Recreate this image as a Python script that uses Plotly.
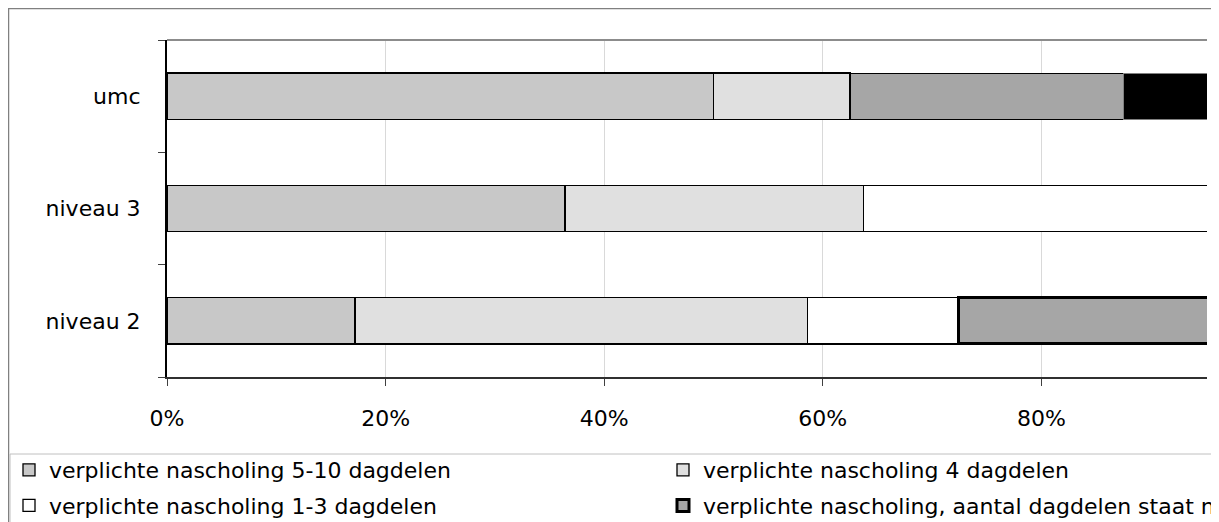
import plotly.graph_objects as go

# categorieen (van onder naar boven)
categories = ["niveau 2", "niveau 3", "umc"]

# aandelen per soort verplichte nascholing
nascholing_5_10 = [0.172, 0.364, 0.500]
nascholing_4 = [0.414, 0.273, 0.125]
nascholing_1_3 = [0.138, 0.364, 0.0]
nascholing_niet_vast = [0.276, 0.0, 0.250]
nascholing_overig = [0.0, 0.0, 0.125]

series_names = [
    "verplichte nascholing 5-10 dagdelen",
    "verplichte nascholing 4 dagdelen",
    "verplichte nascholing 1-3 dagdelen",
    "verplichte nascholing, aantal dagdelen staat niet vast",
    "overig",
]

# de pagina zet de figuur 8px van links/boven (body marge)
OFF = 8
W, H = 1219 - OFF, 522 - OFF
L, T = 167 - OFF, 40 - OFF
R = W - (1207 - OFF)
B = H - (377 - OFF)
PW, PH = W - L - R, H - T - B
AXIS_100 = 1093  # pixels voor 0-100%


def px_x(p):
    # schermpixel (x) -> paper coordinaat
    return (p - OFF - L) / PW


def px_y(p):
    return 1 - (p - OFF - T) / PH


FONT = "DejaVu Sans, Verdana, sans-serif"

fig = go.Figure()

styles = [
    dict(color="#c8c8c8", line=dict(color="black", width=1.3)),
    dict(color="#e0e0e0", line=dict(color="black", width=1.3)),
    dict(color="#ffffff", line=dict(color="black", width=1.3)),
    dict(color="#a6a6a6", line=dict(color="black", width=[3, 1.3, 1.2])),
    dict(color="#000000", line=dict(color="#808080", width=1.2)),
]
values = [nascholing_5_10, nascholing_4, nascholing_1_3, nascholing_niet_vast, nascholing_overig]
legends = ["legend", "legend2", "legend", "legend2", "legend2"]

for i, (name, vals, st, lg) in enumerate(zip(series_names, values, styles, legends)):
    fig.add_trace(go.Bar(
        y=categories, x=vals, name=name, orientation="h",
        marker=st, legend=lg, legendgroup=f"g{i}",
        showlegend=(i < 4), hoverinfo="skip",
    ))

fig.update_layout(
    width=W, height=H,
    barmode="stack", bargap=0.59,
    plot_bgcolor="white", paper_bgcolor="white",
    margin=dict(l=L, r=R, t=T, b=B, autoexpand=False),
    font=dict(family=FONT, size=22, color="black"),
    legend=dict(
        x=px_x(9), y=px_y(449), xanchor="left", yanchor="top",
        orientation="v", tracegroupgap=4, itemclick=False,
        font=dict(family=FONT, size=22), bgcolor="rgba(0,0,0,0)",
    ),
    legend2=dict(
        x=px_x(663), y=px_y(449), xanchor="left", yanchor="top",
        orientation="v", tracegroupgap=4, itemclick=False,
        font=dict(family=FONT, size=22), bgcolor="rgba(0,0,0,0)",
    ),
)

fig.update_xaxes(
    range=[0, PW / AXIS_100], tickformat=".0%", dtick=0.2, tick0=0,
    showgrid=True, gridcolor="#d9d9d9", gridwidth=1,
    showline=True, linecolor="#303030", linewidth=2,
    ticks="outside", ticklen=7, tickcolor="#404040",
    ticklabelstandoff=14, zeroline=False, fixedrange=True,
)
fig.update_yaxes(
    categoryorder="array", categoryarray=categories,
    showline=True, linecolor="black", linewidth=2,
    ticks="outside", tickson="boundaries", ticklen=7, tickcolor="#404040",
    ticklabelstandoff=20, showgrid=False, fixedrange=True,
)

# kader grafiek, bovenrand plotgebied en kader legenda
fig.add_shape(type="rect", xref="paper", yref="paper",
              x0=px_x(8.5), x1=px_x(1250), y0=px_y(560), y1=px_y(8.5),
              line=dict(color="#808080", width=1.5), layer="below")
fig.add_shape(type="line", xref="paper", yref="paper",
              x0=0, x1=1, y0=1, y1=1, line=dict(color="#8c8c8c", width=2))
fig.add_shape(type="rect", xref="paper", yref="paper",
              x0=px_x(10), x1=px_x(1250), y0=px_y(560), y1=px_y(454),
              line=dict(color="#c0c0c0", width=1), layer="below")

fig.write_html("out.html")
